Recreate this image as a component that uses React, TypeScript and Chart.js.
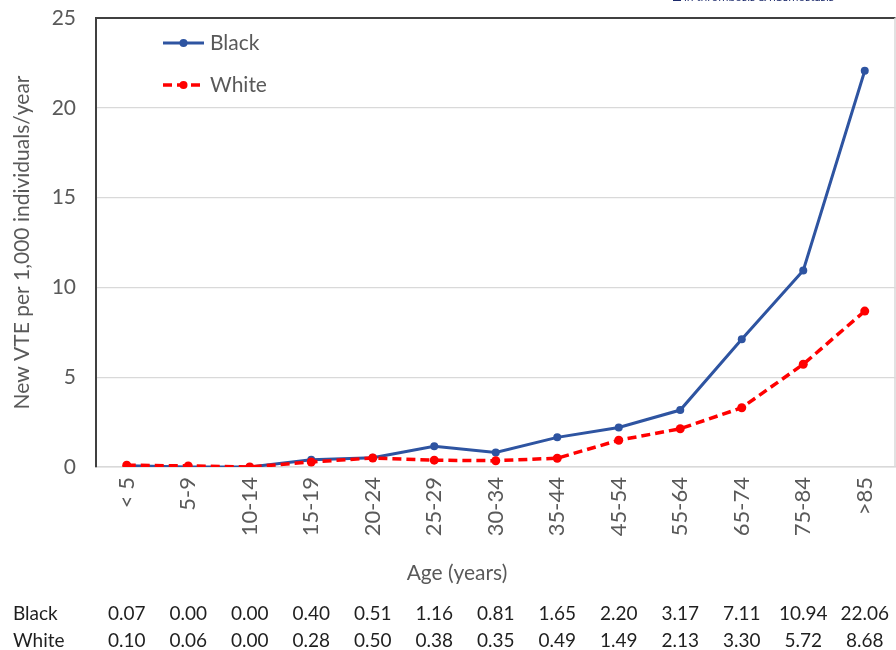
import React, { useEffect, useRef } from "react";
import { Chart, registerables } from "chart.js";

Chart.register(...registerables);

const categories = ["< 5", "5-9", "10-14", "15-19", "20-24", "25-29", "30-34", "35-44", "45-54", "55-64", "65-74", "75-84", ">85"];
const blackValues = [0.07, 0.0, 0.0, 0.4, 0.51, 1.16, 0.81, 1.65, 2.2, 3.17, 7.11, 10.94, 22.06];
const whiteValues = [0.1, 0.06, 0.0, 0.28, 0.5, 0.38, 0.35, 0.49, 1.49, 2.13, 3.3, 5.72, 8.68];
const blackLabels = ["0.07", "0.00", "0.00", "0.40", "0.51", "1.16", "0.81", "1.65", "2.20", "3.17", "7.11", "10.94", "22.06"];
const whiteLabels = ["0.10", "0.06", "0.00", "0.28", "0.50", "0.38", "0.35", "0.49", "1.49", "2.13", "3.30", "5.72", "8.68"];
const seriesNames = ["Black", "White"];

const BLUE = "#2E54A1";
const RED = "#FF0000";
const GRAY = "#595959";
const FONT = "Lato";

const overlayPlugin = {
  id: "overlay",
  afterDraw(chart: any) {
    const ctx = chart.ctx;
    const area = chart.chartArea;
    const xs = chart.scales.x;
    ctx.save();
    ctx.strokeStyle = "#D9D9D9";
    ctx.lineWidth = 1.5;
    ctx.beginPath();
    ctx.moveTo(area.right - 0.5, area.top);
    ctx.lineTo(area.right - 0.5, area.bottom);
    ctx.stroke();

    const items = [
      { name: seriesNames[0], color: BLUE, dash: [] as number[], y: 43, w: 3 },
      { name: seriesNames[1], color: RED, dash: [9, 5], y: 85, w: 3.5 },
    ];
    items.forEach((it) => {
      ctx.strokeStyle = it.color;
      ctx.lineWidth = it.w;
      ctx.setLineDash(it.dash);
      ctx.beginPath();
      ctx.moveTo(163, it.y);
      ctx.lineTo(204, it.y);
      ctx.stroke();
      ctx.setLineDash([]);
      ctx.fillStyle = it.color;
      ctx.beginPath();
      ctx.arc(183.5, it.y, 4, 0, Math.PI * 2);
      ctx.fill();
      ctx.fillStyle = GRAY;
      ctx.font = `21px ${FONT}`;
      ctx.textAlign = "left";
      ctx.textBaseline = "middle";
      ctx.fillText(it.name, 210, it.y);
    });

    ctx.fillStyle = GRAY;
    ctx.font = `21px ${FONT}`;
    ctx.textAlign = "center";
    ctx.textBaseline = "middle";
    ctx.fillText("Age (years)", 457, 573);

    ctx.fillStyle = "#1F1F1F";
    ctx.font = `19px ${FONT}`;
    ctx.textAlign = "left";
    ctx.fillText(seriesNames[0], 13, 614);
    ctx.fillText(seriesNames[1], 13, 641);
    ctx.textAlign = "center";
    categories.forEach((_, i) => {
      const x = xs.getPixelForValue(i);
      ctx.fillText(blackLabels[i], Math.min(x, 871), 614);
      ctx.fillText(whiteLabels[i], Math.min(x, 871), 641);
    });
    ctx.restore();
  },
};

export default function App() {
  const ref = useRef<HTMLCanvasElement>(null);
  useEffect(() => {
    if (!ref.current) return;
    const chart = new Chart(ref.current, {
      type: "line",
      data: {
        labels: categories,
        datasets: [
          {
            label: seriesNames[0],
            data: blackValues,
            borderColor: BLUE,
            backgroundColor: BLUE,
            borderWidth: 3,
            pointRadius: 4,
            pointBorderWidth: 0,
            pointBackgroundColor: BLUE,
            tension: 0,
            order: 2,
          },
          {
            label: seriesNames[1],
            data: whiteValues,
            borderColor: RED,
            backgroundColor: RED,
            borderWidth: 3.5,
            borderDash: [9, 5],
            pointRadius: 4.5,
            pointBorderWidth: 0,
            pointBackgroundColor: RED,
            tension: 0,
            order: 1,
          },
        ],
      },
      options: {
        animation: false,
        responsive: false,
        devicePixelRatio: 1,
        layout: { padding: { top: 18, right: 1, left: 0, bottom: 0 } },
        plugins: { legend: { display: false }, tooltip: { enabled: false } },
        scales: {
          x: {
            type: "category",
            offset: true,
            grid: { display: false, drawTicks: false },
            border: { display: true, color: "#D9D9D9", width: 1.5 },
            ticks: {
              minRotation: 90,
              maxRotation: 90,
              padding: 10,
              color: GRAY,
              font: { family: FONT, size: 22 },
            },
            afterFit: (s: any) => {
              s.height = 183;
              s.paddingLeft = 0;
              s.paddingRight = 0;
            },
          },
          y: {
            min: 0,
            max: 25,
            ticks: {
              stepSize: 5,
              padding: 20,
              color: GRAY,
              font: { family: FONT, size: 21 },
            },
            grid: {
              drawTicks: false,
              color: (c: any) => (c.tick && c.tick.value === 25 ? "#404040" : "#D9D9D9"),
              lineWidth: (c: any) => (c.tick && c.tick.value === 25 ? 2 : 1.2),
            },
            border: { display: true, color: "#404040", width: 2 },
            title: {
              display: true,
              text: "New VTE per 1,000 individuals/year",
              color: GRAY,
              font: { family: FONT, size: 21 },
              padding: { top: 10, bottom: 0 },
            },
            afterFit: (s: any) => {
              s.width = 96;
              s.paddingTop = 0;
              s.paddingBottom = 0;
            },
          },
        },
      },
      plugins: [overlayPlugin],
    });
    return () => chart.destroy();
  }, []);
  return (
    <div style={{ position: "fixed", left: 0, top: 0, width: 896, height: 650, overflow: "hidden", background: "#fff" }}>
      <canvas ref={ref} width={900} height={650} style={{ display: "block" }} />
      <div
        style={{
          position: "absolute",
          left: 673,
          top: -9,
          fontFamily: "'Noto Sans', sans-serif",
          fontSize: 11,
          color: "#1C2A6B",
          whiteSpace: "nowrap",
          lineHeight: "12px",
        }}
      >
        <span style={{ display: "inline-block", width: 8, height: 8, background: "#1C2A6B", marginRight: 3 }} />
        in thrombosis &amp; haemostasis
      </div>
    </div>
  );
}
